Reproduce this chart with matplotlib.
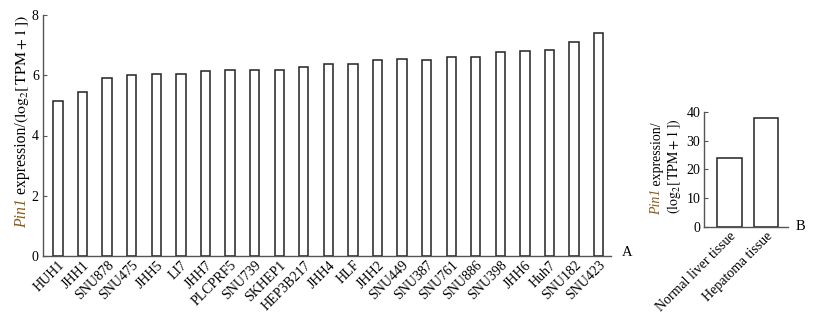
import matplotlib
matplotlib.use("Agg")
import matplotlib.pyplot as plt
import numpy as np

# Dữ liệu
cell_lines = ["HUH1", "JHH1", "SNU878", "SNU475", "JHH5", "LI7", "JHH7", "PLCPRF5",
              "SNU739", "SKHEP1", "HEP3B217", "JHH4", "HLF", "JHH2", "SNU449", "SNU387",
              "SNU761", "SNU886", "SNU398", "JHH6", "Huh7", "SNU182", "SNU423"]
cell_values = [5.16, 5.44, 5.92, 6.00, 6.04, 6.04, 6.13, 6.16, 6.16, 6.19, 6.29, 6.38,
               6.38, 6.49, 6.55, 6.52, 6.59, 6.60, 6.78, 6.82, 6.84, 7.10, 7.39]
tissues = ["Normal liver tissue", "Hepatoma tissue"]
tissue_values = [24.0, 38.1]

plt.rcParams['font.family'] = ['Liberation Serif', 'DejaVu Serif']
plt.rcParams['mathtext.fontset'] = 'stix'

W, H = 821, 316
fig = plt.figure(figsize=(W / 100, H / 100), dpi=100)

spine_col = '#555555'
pin_col = '#8c5a17'
fs = 10


def style_axes(ax):
    for s in ['top', 'right']:
        ax.spines[s].set_visible(False)
    for s in ['left', 'bottom']:
        ax.spines[s].set_color(spine_col)
        ax.spines[s].set_linewidth(1.0)
    ax.tick_params(axis='y', direction='in', length=3, width=0.8, color=spine_col,
                   labelsize=fs, pad=3)
    ax.tick_params(axis='x', length=0, labelsize=fs, pad=2)


# Biểu đồ A
ax1 = fig.add_axes([43 / W, 1 - 256 / H, (611 - 43) / W, (256 - 15) / H])
x1 = np.arange(len(cell_lines))
ax1.bar(x1, cell_values, width=0.38, color='white', edgecolor='#222222', linewidth=1.1)
ax1.set_xlim(-0.61, len(cell_lines) - 0.5)
ax1.set_ylim(0, 8)
ax1.set_yticks([0, 2, 4, 6, 8])
ax1.set_xticks(x1)
ax1.set_xticklabels(cell_lines, rotation=45, ha='right', rotation_mode='anchor')
style_axes(ax1)

# Biểu đồ B
ax2 = fig.add_axes([704.3 / W, 1 - 226.7 / H, (787.7 - 704.3) / W, (226.7 - 112.3) / H])
x2 = np.arange(len(tissues))
ax2.bar(x2, tissue_values, width=0.66, color='white', edgecolor='#222222', linewidth=1.1)
ax2.set_xlim(-0.685, 1.58)
ax2.set_ylim(0, 40)
ax2.set_yticks([0, 10, 20, 30, 40])
ax2.set_xticks(x2)
ax2.set_xticklabels(tissues, rotation=45, ha='right', rotation_mode='anchor')
style_axes(ax2)

fig.text(621.7 / W, 1 - 253 / H, 'A', fontsize=fs + 0.5, va='center', ha='left')
fig.text(796 / W, 1 - 226.5 / H, 'B', fontsize=fs + 0.5, va='center', ha='left')

# Nhãn trục y: "Pin1" in nghiêng có màu, phần còn lại màu đen
renderer = fig.canvas.get_renderer()
bracket = r"$\mathrm{(log_2[\,TPM+1\,])}$"


def rot_label(x_px, y_px, parts, size):
    y = 1 - y_px / H
    for txt, kw in parts:
        t = fig.text(x_px / W, y, txt, rotation=90, rotation_mode='anchor',
                     ha='left', va='center', fontsize=size, **kw)
        bb = t.get_window_extent(renderer)
        y += bb.height / H


rot_label(22, 228, [("Pin1", dict(style='italic', color=pin_col)),
                    (" expression/", dict(color='black')),
                    (bracket, dict(color='black'))], 11.3)
rot_label(657, 215, [("Pin1", dict(style='italic', color=pin_col)),
                     (" expression/", dict(color='black'))], 10)
rot_label(674, 214, [(bracket, dict(color='black'))], 10)

fig.savefig("out.png", dpi=100)
